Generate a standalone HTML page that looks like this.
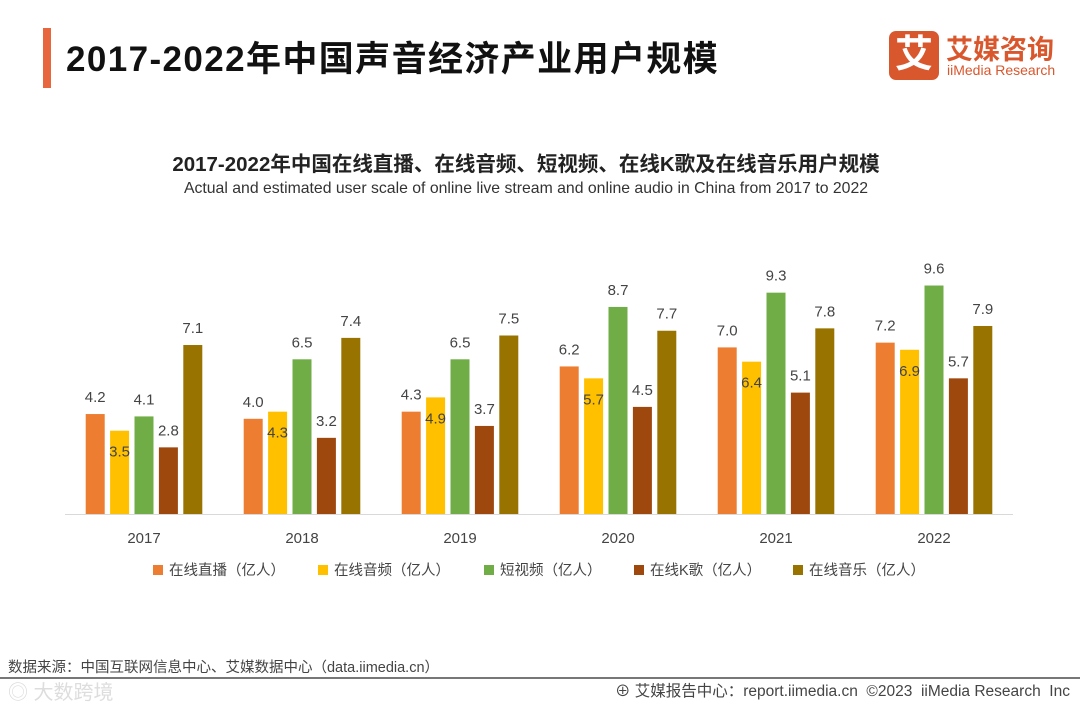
<!DOCTYPE html>
<html><head><meta charset="utf-8"><style>
body{margin:0;width:1080px;height:702px;background:#fff;overflow:hidden;position:relative;font-family:"Liberation Sans","Noto Sans CJK SC",sans-serif;}
.abs{position:absolute;white-space:nowrap}
</style></head><body>
<div class="abs" style="left:43px;top:28px;width:8px;height:60px;background:#e8663d"></div>
<div class="abs" style="left:66px;top:31px;font-size:35px;letter-spacing:1.4px;font-weight:bold;color:#111">2017-2022年中国声音经济产业用户规模</div>
<div class="abs" style="left:889px;top:31px;width:170px;height:50px">
 <div style="position:absolute;left:0;top:0;width:50px;height:49px;background:#d9572d;border-radius:7px;color:#fff;font-size:38px;font-weight:bold;text-align:center;line-height:49px">艾</div>
 <div style="position:absolute;left:57px;top:-3px;font-size:27px;font-weight:bold;color:#d9572d">艾媒咨询</div>
 <div style="position:absolute;left:58px;top:31px;font-size:14px;color:#d9572d">iiMedia Research</div>
</div>
<div class="abs" style="left:0;width:1052px;text-align:center;top:147px;font-size:20.5px;font-weight:bold;color:#222">2017-2022年中国在线直播、在线音频、短视频、在线K歌及在线音乐用户规模</div>
<div class="abs" style="left:0;width:1052px;text-align:center;top:180px;font-size:15.8px;color:#333">Actual and estimated user scale of online live stream and online audio in China from 2017 to 2022</div>
<svg class="abs" style="left:0;top:0" width="1080" height="702" id="chart"></svg>
<div class="abs" style="left:8px;top:656px;font-size:14.5px;color:#444">数据来源：中国互联网信息中心、艾媒数据中心（data.iimedia.cn）</div>
<div class="abs" style="left:0;top:677px;width:1080px;height:2px;background:#777"></div>
<div class="abs" style="left:8px;top:676px;font-size:20px;color:#ddd">◎ 大数跨境</div>
<div class="abs" style="right:10px;top:679px;font-size:15.5px;color:#444">⊕ 艾媒报告中心：report.iimedia.cn &nbsp;©2023 &nbsp;iiMedia Research &nbsp;Inc</div>
<script>
const years=['2017','2018','2019','2020','2021','2022'];
const seriesNames=['在线直播（亿人）','在线音频（亿人）','短视频（亿人）','在线K歌（亿人）','在线音乐（亿人）'];
const live=[4.2,4.0,4.3,6.2,7.0,7.2];
const audio=[3.5,4.3,4.9,5.7,6.4,6.9];
const shortVideo=[4.1,6.5,6.5,8.7,9.3,9.6];
const karaoke=[2.8,3.2,3.7,4.5,5.1,5.7];
const music=[7.1,7.4,7.5,7.7,7.8,7.9];
const series=[live,audio,shortVideo,karaoke,music];
const colors=['#ed7d31','#ffc000','#70ad47','#9e480e','#997300'];
const svg=document.getElementById('chart');
const NS='http://www.w3.org/2000/svg';
const base=514, unit=23.8, g0=144, gp=158, bp=24.4, bw=19;
const y=v=>base-v*unit;
const xg=i=>g0+i*gp;
function mk(t,a){const e=document.createElementNS(NS,t);for(const k in a)e.setAttribute(k,a[k]);svg.appendChild(e);return e;}
const ax=mk('line',{x1:65,x2:1013,y1:base+0.5,y2:base+0.5,stroke:'#d9d9d9','stroke-width':1});


years.forEach((yr,i)=>{
 const t=mk('text',{x:xg(i),y:543,'text-anchor':'middle','font-size':15,fill:'#444','font-family':'Liberation Sans, sans-serif'});
 t.textContent=yr;
 
 
 series.forEach((s,j)=>{
  const cx=xg(i)+(j-2)*bp;
  const r=mk('rect',{x:cx-bw/2,y:y(s[i]),width:bw,height:base-y(s[i]),fill:colors[j]});
  
  
  const ly=j===1?y(s[i])+26:y(s[i])-12;
  const l=mk('text',{x:cx,y:ly,'text-anchor':'middle','font-size':15,fill:'#444','font-family':'Liberation Sans, sans-serif'});
  l.textContent=s[i].toFixed(1);
  
  
 });
});
const lx=[153,318,484,634,793];
seriesNames.forEach((n,j)=>{
 const r=mk('rect',{x:lx[j],y:565,width:10,height:10,fill:colors[j]});
 
 
 const t=mk('text',{x:lx[j]+16,y:575,'font-size':14.5,fill:'#444','font-family':'Liberation Sans, Noto Sans CJK SC, sans-serif'});
 t.textContent=n;
 
 
});
</script>
</body></html>
